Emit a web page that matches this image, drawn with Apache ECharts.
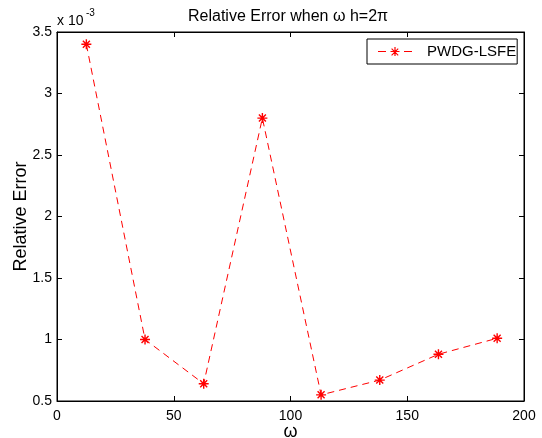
<!DOCTYPE html>
<html><head><meta charset="utf-8">
<script src="https://cdn.jsdelivr.net/npm/echarts@6/dist/echarts.min.js"></script>
<style>html,body{margin:0;padding:0;background:#fff}#c{width:542px;height:438px}</style>
</head><body><div id="c"></div>
<script>
// omega values (x) and relative error in units of 10^-3 (y)
const omega = [12.57, 37.70, 62.83, 87.96, 113.10, 138.23, 163.36, 188.50];
const relErr = [3.40, 1.00, 0.64, 2.80, 0.55, 0.67, 0.88, 1.01];
const xRange = [0, 200, 50];
const yRange = [0.5, 3.5, 0.5];
const seriesName = 'PWDG-LSFE';
const titleText = 'Relative Error when \u03c9 h=2\u03c0';
const xName = '\u03c9';
const yName = 'Relative Error';

const FONT = 'Liberation Sans, Arial, Helvetica, sans-serif';
const asterisk = 'path://M4.3,0H5.7V10H4.3Z M0,4.3H10V5.7H0Z M2,1L9,8L8,9L1,2Z M8,1L9,2L2,9L1,8Z';
// legend icon: dash, asterisk, dash (34 x 10)
const legendIcon = 'path://M0,4.5H8V5.5H0Z M26,4.5H34V5.5H26Z ' +
  'M16.4,0.5H17.6V9.5H16.4Z M12.5,4.4H21.5V5.6H12.5Z M14,1.8L20.6,8.4L19.8,9.2L13.2,2.6Z M20.6,2.6L14,9.2L13.2,8.4L19.8,1.8Z ' +
  'M0,0H0.01V0.01H0Z M33.99,9.99H34V10H33.99Z';

const chart = echarts.init(document.getElementById('c'), null, {renderer: 'canvas'});
const baseX = {
  type: 'value', min: xRange[0], max: xRange[1], interval: xRange[2],
  axisLine: {show: true, onZero: false, lineStyle: {color: '#000', width: 1}},
  axisTick: {show: true, inside: true, length: 5, lineStyle: {color: '#000'}},
  splitLine: {show: false}
};
const baseY = {
  type: 'value', min: yRange[0], max: yRange[1], interval: yRange[2],
  axisLine: {show: true, onZero: false, lineStyle: {color: '#000', width: 1}},
  axisTick: {show: true, inside: true, length: 5, lineStyle: {color: '#000'}},
  splitLine: {show: false}
};
chart.setOption({
  animation: false,
  backgroundColor: '#fff',
  textStyle: {fontFamily: FONT},
  title: {
    text: titleText, left: 183, top: 4,
    textStyle: {fontFamily: FONT, fontSize: 16, fontWeight: 'normal', color: '#000'}
  },
  grid: {left: 57, right: 18, top: 32, bottom: 37, outerBoundsMode: 'none', containLabel: false,
    show: true, borderColor: '#000', borderWidth: 1, backgroundColor: '#fff'},
  legend: {
    data: [{name: seriesName, icon: legendIcon}], left: 367, top: 39,
    padding: [5, 1, 5, 11], itemWidth: 34, itemHeight: 10, itemGap: 0,
    borderColor: '#000', borderWidth: 1, backgroundColor: '#fff',
    itemStyle: {color: '#ff0000', borderWidth: 0},
    lineStyle: {width: 0},
    textStyle: {fontFamily: FONT, fontSize: 15, color: '#000', padding: [0, 0, 0, 10]}
  },
  xAxis: [
    Object.assign({}, baseX, {
      position: 'bottom', name: xName, nameLocation: 'middle', nameGap: 22, nameMoveOverlap: false,
      nameTextStyle: {fontFamily: FONT, fontSize: 18, color: '#000'},
      axisLabel: {color: '#000', fontSize: 14, fontFamily: FONT, margin: 8}
    }),
    Object.assign({}, baseX, {position: 'top', axisLabel: {show: false}})
  ],
  yAxis: [
    Object.assign({}, baseY, {
      position: 'left', name: yName, nameLocation: 'middle', nameGap: 27, nameMoveOverlap: false,
      nameTextStyle: {fontFamily: FONT, fontSize: 18, color: '#000'},
      axisLabel: {color: '#000', fontSize: 14, fontFamily: FONT, margin: 5}
    }),
    Object.assign({}, baseY, {position: 'right', axisLabel: {show: false}})
  ],
  graphic: [
    {type: 'text', left: 57, top: 14, style: {text: 'x 10', font: '14px ' + FONT, fill: '#000'}},
    {type: 'text', left: 86, top: 8, style: {text: '-3', font: '10px ' + FONT, fill: '#000'}}
  ],
  series: [{
    name: seriesName, type: 'line', xAxisIndex: 0, yAxisIndex: 0,
    data: omega.map((x, i) => [x, relErr[i]]),
    symbol: asterisk, symbolSize: 10,
    color: '#ff0000',
    itemStyle: {color: '#ff0000'},
    lineStyle: {color: '#ff0000', width: 1, type: [7, 5]}
  }]
});
</script>
</body></html>
